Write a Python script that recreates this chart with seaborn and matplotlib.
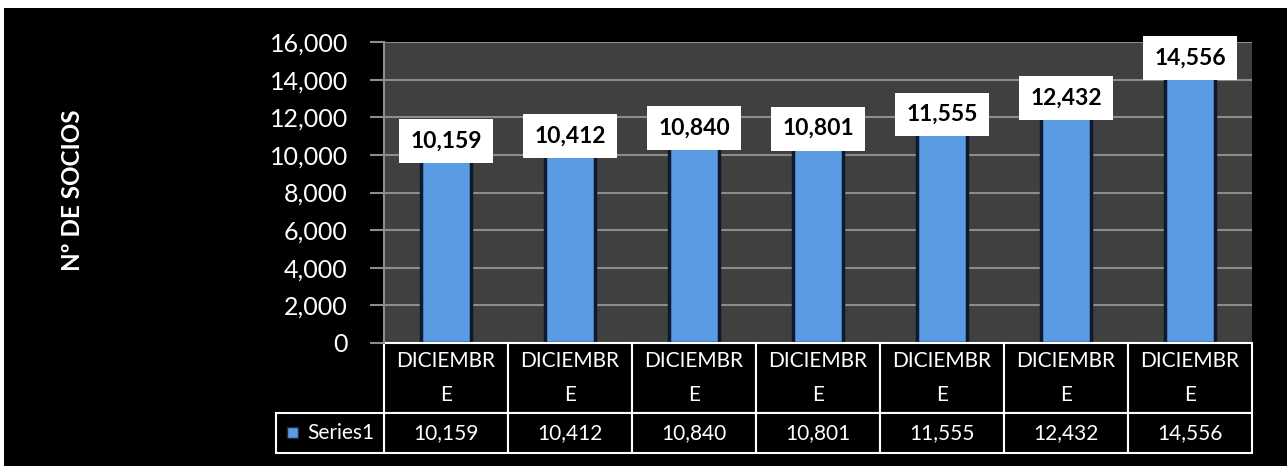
import pandas as pd
import matplotlib.pyplot as plt
import seaborn as sns
from matplotlib.patches import Rectangle
from matplotlib.transforms import blended_transform_factory

# Data
categories = ['DICIEMBRE', 'DICIEMBRE', 'DICIEMBRE', 'DICIEMBRE', 'DICIEMBRE', 'DICIEMBRE', 'DICIEMBRE']
values = [10159, 10412, 10840, 10801, 11555, 12432, 14556]
series_name = 'Series1'
y_ticks = [0, 2000, 4000, 6000, 8000, 10000, 12000, 14000, 16000]

df = pd.DataFrame({'pos': range(len(values)), 'value': values})

sns.set_style('dark')
plt.rcParams['font.family'] = ['Lato', 'DejaVu Sans']

W, H = 1287, 466
BAR_COLOR = '#5b9be3'
fig = plt.figure(figsize=(W / 100, H / 100), dpi=100, facecolor='white')

# Black chart background (thin white strip on top and left)
fig.add_artist(Rectangle((4 / W, 0), 1, (H - 8) / H, transform=fig.transFigure,
                         facecolor='black', edgecolor='none', zorder=-10))

ax_h = 343 - 42
ax = fig.add_axes([384 / W, 1 - 343 / H, (1252 - 384) / W, ax_h / H])
ax.set_facecolor('#404040')

sns.barplot(data=df, x='pos', y='value', color=BAR_COLOR, width=0.4,
            edgecolor='#0c1a2c', linewidth=2.5, saturation=1, ax=ax)

ax.set_ylim(0, 16000)
ax.set_xlim(-0.5, len(values) - 0.5)
ax.set_yticks(y_ticks)
ax.set_yticklabels([f'{t:,}' for t in y_ticks])
ax.yaxis.grid(True, color='#8c8c8c', linewidth=1.5)
ax.xaxis.grid(False)
ax.set_axisbelow(True)
ax.tick_params(axis='y', colors='#8c8c8c', labelcolor='white', labelsize=18,
               length=10, width=1.5, pad=16, left=True)
ax.tick_params(axis='x', bottom=False, labelbottom=False)
ax.set_xlabel('')
ax.set_ylabel('')
for side in ['top', 'right', 'bottom']:
    ax.spines[side].set_visible(False)
ax.spines['left'].set_color('#8c8c8c')
ax.spines['left'].set_linewidth(1.5)

# Data labels
for i, v in enumerate(values):
    ax.annotate(f'{v:,}', (i, v), xytext=(0, 8), textcoords='offset points',
                ha='center', va='center', fontsize=16.5, fontweight='bold', color='black',
                bbox=dict(boxstyle='square,pad=0.5', facecolor='white', edgecolor='none'),
                annotation_clip=False)

# Data table below the plot (x in category units, y in axes fraction)
trans = blended_transform_factory(ax.transData, ax.transAxes)
head_top, head_bot, row_bot = 0, -70 / ax_h, -110 / ax_h
label_w = 108 / 124


def cell(x0, x1, y0, y1, text, **kw):
    ax.add_patch(Rectangle((x0, y0), x1 - x0, y1 - y0, transform=trans, clip_on=False,
                           facecolor='black', edgecolor='white', linewidth=1.5))
    ax.text(x1 - 0.08 if kw.get('ha') == 'right' else (x0 + x1) / 2, (y0 + y1) / 2, text,
            transform=trans, color='white', fontsize=15, va='center',
            ha=kw.get('ha', 'center'), linespacing=1.9, clip_on=False)


for i, (cat, v) in enumerate(zip(categories, values)):
    cell(i - 0.5, i + 0.5, head_bot, head_top, cat[:8] + '\n' + cat[8:])
    cell(i - 0.5, i + 0.5, row_bot, head_bot, f'{v:,}')
cell(-0.5 - label_w, -0.5, row_bot, head_bot, series_name, ha='right')

# Legend key in the table
fig.add_artist(Rectangle((287 / W, 1 - 438 / H), 11 / W, 11 / H, transform=fig.transFigure,
                         facecolor=BAR_COLOR, edgecolor='#1a2a40', linewidth=1))

fig.text(72 / W, 1 - 190 / H, 'Nº DE SOCIOS', rotation=90, ha='center', va='center',
         color='white', fontsize=17.5, fontweight='bold')

plt.savefig('out.png', dpi=100, facecolor=fig.get_facecolor())
